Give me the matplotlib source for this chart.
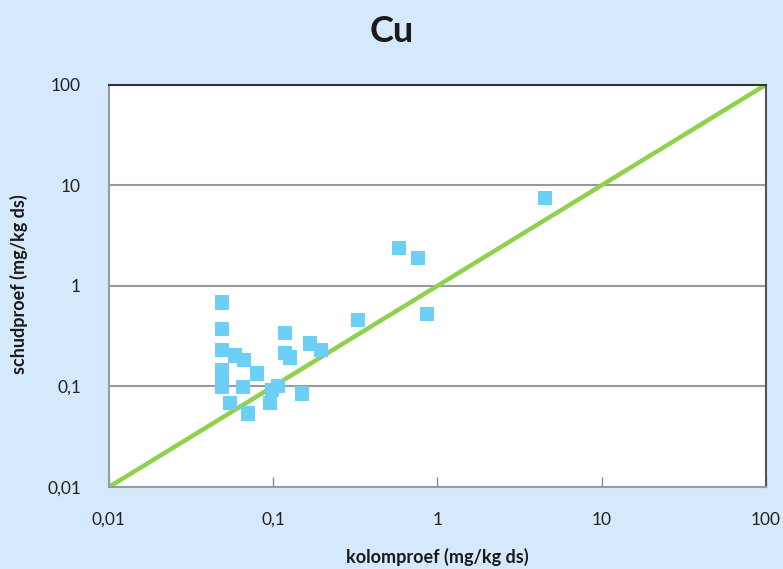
import numpy as np
import matplotlib.pyplot as plt

# kolomproef (x) en schudproef (y), mg/kg ds
kolom = [4.51, 0.583, 0.761, 0.863, 0.328,
         0.167, 0.195, 0.118, 0.118, 0.127,
         0.049, 0.049, 0.049, 0.049, 0.049, 0.049,
         0.0545, 0.0585, 0.0664, 0.0654, 0.0796, 0.0702,
         0.0983, 0.107, 0.0955, 0.150]
schud = [7.43, 2.38, 1.89, 0.53, 0.46,
         0.267, 0.232, 0.343, 0.217, 0.194,
         0.684, 0.375, 0.232, 0.147, 0.115, 0.098,
         0.068, 0.203, 0.185, 0.098, 0.135, 0.054,
         0.093, 0.102, 0.068, 0.085]

ticks = [0.01, 0.1, 1, 10, 100]
tick_labels = ['0,01', '0,1', '1', '10', '100']

plt.rcParams['font.family'] = ['Lato', 'DejaVu Sans']

bg = '#d5e9fc'
fig = plt.figure(figsize=(7.83, 5.69), dpi=100, facecolor=bg)
ax = fig.add_axes([0.139, 0.144, 0.839, 0.707])
ax.set_facecolor('white')

# 1:1 lijn
ax.plot([0.01, 100], [0.01, 100], color='#8ed14d', lw=3.2, zorder=2)
ax.scatter(kolom, schud, marker='s', s=105, color='#6ccff6', edgecolors='none', zorder=3)

ax.set_xscale('log')
ax.set_yscale('log')
ax.set_xlim(0.01, 100)
ax.set_ylim(0.01, 100)
ax.minorticks_off()
ax.set_xticks(ticks)
ax.set_xticklabels(tick_labels)
ax.set_yticks(ticks)
ax.set_yticklabels(tick_labels)

ax.yaxis.grid(True, color='#9a9a9a', lw=1.5)
ax.set_axisbelow(True)

ax.tick_params(axis='x', direction='in', length=7, width=1, color='#888888', pad=18, labelsize=12.5, labelcolor='#222222')
ax.tick_params(axis='y', length=0, pad=20, labelsize=12.5, labelcolor='#222222')

for side in ['left', 'bottom']:
    ax.spines[side].set_color('#9a9a9a')
    ax.spines[side].set_linewidth(1.5)
ax.spines['top'].set_color('#333333')
ax.spines['top'].set_linewidth(1.5)
ax.spines['right'].set_color('#555555')
ax.spines['right'].set_linewidth(1.5)

fig.text(0.5, 0.945, 'Cu', ha='center', va='center', fontsize=26, fontweight='bold', color='#1a1a1a')
fig.text(0.558, 0.022, 'kolomproef (mg/kg ds)', ha='center', va='center', fontsize=13, fontweight='bold', color='#1a1a1a')
fig.text(0.024, 0.50, 'schudproef (mg/kg ds)', ha='center', va='center', rotation=90, fontsize=13, fontweight='bold', color='#1a1a1a')

fig.savefig('out.png', dpi=100, facecolor=bg)
